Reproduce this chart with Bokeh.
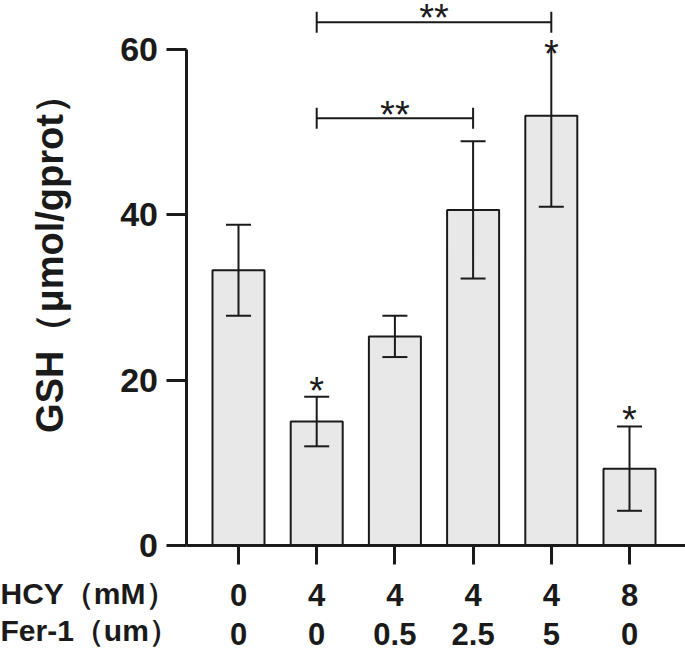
from math import pi
from bokeh.plotting import figure
from bokeh.models import Range1d, LinearAxis, FixedTicker, ColumnDataSource
from bokeh.embed import file_html
from bokeh.resources import INLINE
from bokeh.core.properties import value

# ---------------- data ----------------
hcy_mM = ["0", "4", "4", "4", "4", "8"]
fer1_um = ["0", "0", "0.5", "2.5", "5", "0"]
gsh_mean = [33.3, 15.0, 25.3, 40.6, 52.0, 9.3]
err_upper = [5.5, 3.0, 2.5, 8.3, 8.2, 5.1]
err_lower = [5.5, 3.0, 2.5, 8.3, 11.0, 5.1]
upper_cap = [True, True, True, True, False, True]
star_text = ["", "*", "", "", "*", "*"]
star_y = [0, 19.7, 0, 0, 60.4, 16.1]
bracket_from = [2, 2]
bracket_to = [4, 5]
bracket_y = [51.7, 63.3]
bracket_label_y = [53.0, 64.8]
bracket_text = ["**", "**"]
y_ticks = [0, 20, 40, 60]
y_title = "GSH（μmol/gprot）"
row_titles = ["HCY（mM）", "Fer-1（um）"]

# ---------------- layout constants ----------------
FONT = "Liberation Sans"
INK = "#1a1a1a"
W, H = 685, 649
px_per_x = 78.2          # pixels per category step
px_per_y = 8.265         # pixels per GSH unit
first_px, zero_px = 238, 545
x_start = 1 - first_px / px_per_x
x_end = x_start + W / px_per_x
y_end = zero_px / px_per_y
y_start = y_end - H / px_per_y


def x_at_px(px):
    return x_start + px / px_per_x


def y_at_px(py):
    return (zero_px - py) / px_per_y


y_axis_x = x_at_px(185.5)
pos = list(range(1, len(gsh_mean) + 1))

p = figure(width=W, height=H,
           x_range=Range1d(x_start, x_end), y_range=Range1d(y_start, y_end),
           toolbar_location=None, output_backend="svg",
           min_border_left=0, min_border_right=0,
           min_border_top=0, min_border_bottom=0)
p.outline_line_color = None
p.grid.visible = False
p.background_fill_color = "white"
p.border_fill_color = "white"

# y axis
ya = p.yaxis[0]
ya.fixed_location = y_axis_x
ya.ticker = FixedTicker(ticks=y_ticks)
ya.bounds = (0, 60)
ya.axis_line_width = 3
ya.axis_line_color = INK
ya.major_tick_line_width = 3
ya.major_tick_line_color = INK
ya.major_tick_out = 20
ya.major_tick_in = 0
ya.minor_tick_line_color = None
ya.major_label_standoff = 8
ya.major_label_text_font = FONT
ya.major_label_text_font_style = "bold"
ya.major_label_text_font_size = "34px"
ya.major_label_text_color = INK

# x axis row 1 (HCY)
xa = p.xaxis[0]
xa.fixed_location = 0
xa.bounds = (y_axis_x, x_end)
xa.ticker = FixedTicker(ticks=pos)
xa.major_label_overrides = {k: v for k, v in zip(pos, hcy_mM)}
xa.axis_line_width = 3
xa.axis_line_color = INK
xa.major_tick_line_width = 3
xa.major_tick_line_color = INK
xa.major_tick_out = 19
xa.major_tick_in = 0
xa.minor_tick_line_color = None
xa.major_label_standoff = 19
xa.major_label_text_font = FONT
xa.major_label_text_font_style = "bold"
xa.major_label_text_font_size = "31px"
xa.major_label_text_color = INK

# x axis row 2 (Fer-1)
xa2 = LinearAxis(ticker=FixedTicker(ticks=pos), fixed_location=0,
                 major_label_overrides={k: v for k, v in zip(pos, fer1_um)})
xa2.axis_line_color = None
xa2.major_tick_line_color = None
xa2.minor_tick_line_color = None
xa2.major_tick_out = 0
xa2.major_tick_in = 0
xa2.major_label_standoff = 77
xa2.major_label_text_font = FONT
xa2.major_label_text_font_style = "bold"
xa2.major_label_text_font_size = "31px"
xa2.major_label_text_color = INK
p.add_layout(xa2, "below")

# bars
src = ColumnDataSource(dict(
    x=pos, top=gsh_mean,
    lo=[m - e for m, e in zip(gsh_mean, err_lower)],
    hi=[m + e for m, e in zip(gsh_mean, err_upper)],
))
p.vbar(x="x", top="top", bottom=0, width=52 / px_per_x, source=src,
       fill_color="#e8e8e8", line_color=INK, line_width=2)

# error bars
cap_half = 12.5 / px_per_x
p.segment(x0="x", y0="lo", x1="x", y1="hi", source=src, line_color=INK, line_width=2)
p.segment(x0=[x - cap_half for x in pos], y0=src.data["lo"],
          x1=[x + cap_half for x in pos], y1=src.data["lo"],
          line_color=INK, line_width=2)
up_x = [x for x, c in zip(pos, upper_cap) if c]
up_y = [h for h, c in zip(src.data["hi"], upper_cap) if c]
p.segment(x0=[x - cap_half for x in up_x], y0=up_y,
          x1=[x + cap_half for x in up_x], y1=up_y,
          line_color=INK, line_width=2)

STAR_SIZE = "38px"
STAR_OFF = 8

# single stars
sx = [x for x, t in zip(pos, star_text) if t]
sy = [y for y, t in zip(star_y, star_text) if t]
st = [t for t in star_text if t]
p.text(x=sx, y=sy, text=st, text_align="center", text_baseline="alphabetic",
       y_offset=STAR_OFF, text_font=value(FONT), text_font_size=STAR_SIZE, text_color=INK)

# significance brackets
tick_half = 10.5 / px_per_y
for a, b, y, ly, t in zip(bracket_from, bracket_to, bracket_y, bracket_label_y, bracket_text):
    p.segment(x0=[a], y0=[y], x1=[b], y1=[y], line_color=INK, line_width=2)
    p.segment(x0=[a, b], y0=[y - tick_half] * 2, x1=[a, b], y1=[y + tick_half] * 2,
              line_color=INK, line_width=2)
    p.text(x=[(a + b) / 2], y=[ly], text=[t], text_align="center",
           text_baseline="alphabetic", y_offset=STAR_OFF, text_font=value(FONT),
           text_font_size=STAR_SIZE, text_color=INK)

# y axis title
p.text(x=[x_at_px(49)], y=[y_at_px(254)], text=[y_title], angle=pi / 2,
       text_align="center", text_baseline="middle",
       text_font=value(FONT), text_font_style="bold", text_font_size="38px",
       text_color=INK)

# row titles
p.text(x=[x_at_px(0)] * 2, y=[y_at_px(593), y_at_px(630)], text=row_titles,
       text_align="left", text_baseline="middle",
       text_font=value(FONT), text_font_style="bold", text_font_size="30px",
       text_color=INK)

open("out.html", "w").write(file_html(p, INLINE))
